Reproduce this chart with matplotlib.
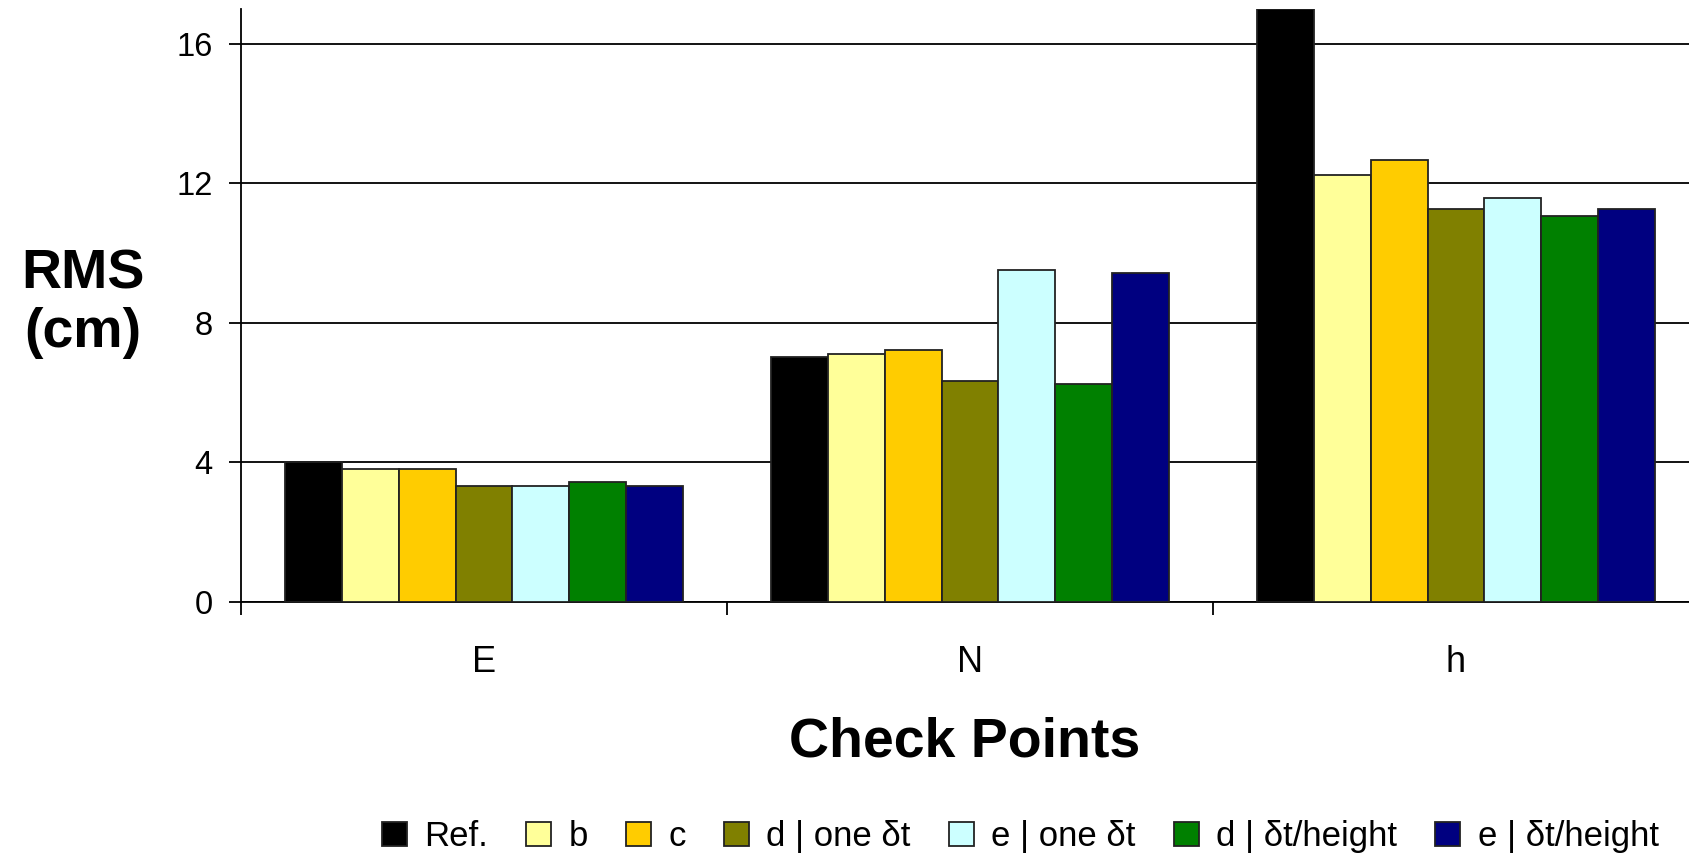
import numpy as np
import matplotlib
matplotlib.use('Agg')
import matplotlib.pyplot as plt
from matplotlib.ticker import FixedLocator

plt.rcParams['font.family'] = ['Liberation Sans', 'DejaVu Sans']

categories = ['E', 'N', 'h']
series_names = ['Ref.', 'b', 'c', 'd | one δt', 'e | one δt', 'd | δt/height', 'e | δt/height']
ref_vals = [4.0, 7.02, 17.0]
b_vals = [3.8, 7.12, 12.24]
c_vals = [3.8, 7.23, 12.66]
d_one_vals = [3.33, 6.33, 11.26]
e_one_vals = [3.32, 9.52, 11.57]
d_height_vals = [3.45, 6.24, 11.07]
e_height_vals = [3.32, 9.42, 11.28]
colors = ['#000000', '#FFFF99', '#FFCC00', '#808000', '#CCFFFF', '#008000', '#000080']

all_vals = [ref_vals, b_vals, c_vals, d_one_vals, e_one_vals, d_height_vals, e_height_vals]

fig = plt.figure(figsize=(16.89, 8.63), dpi=100)
ax = fig.add_axes([0.1427, 0.3024, 0.8632, 0.6872])

x = np.arange(len(categories))
w = 0.117
n = len(all_vals)
for i, (vals, name, col) in enumerate(zip(all_vals, series_names, colors)):
    ax.bar(x + (i - (n - 1) / 2) * w, vals, width=w, color=col, edgecolor='#222222',
           linewidth=1.3, label=name, zorder=3)

ax.set_xlim(-0.5, 2.5)
ax.set_ylim(0, 17)
ax.set_yticks([0, 4, 8, 12, 16])
ax.yaxis.grid(True, color='black', linewidth=1.3, zorder=0)
ax.set_axisbelow(True)

ax.set_xticks(x)
ax.set_xticklabels(categories)
ax.xaxis.set_minor_locator(FixedLocator([-0.5, 0.5, 1.5, 2.5]))
ax.tick_params(axis='x', which='major', length=0, pad=31, labelsize=26)
ax.tick_params(axis='x', which='minor', length=9, width=1.3, direction='out')
ax.tick_params(axis='y', length=8.5, width=1.3, direction='out', pad=12, labelsize=23.5)

for s in ['top', 'right']:
    ax.spines[s].set_visible(False)
ax.spines['left'].set_linewidth(1.3)
ax.spines['bottom'].set_linewidth(1.3)

fig.text(0.049, 0.648, 'RMS\n(cm)', fontsize=40, fontweight='bold', ha='center', va='center',
         linespacing=1.15)
fig.text(0.571, 0.14, 'Check Points', fontsize=40, fontweight='bold', ha='center', va='center')

handles, labels = ax.get_legend_handles_labels()
fig.legend(handles, labels, loc='center', bbox_to_anchor=(0.604, 0.031), ncol=7,
           frameon=False, fontsize=25, handlelength=0.72, handleheight=0.68,
           handletextpad=0.5, columnspacing=1.1, borderpad=0)

fig.savefig('out.png', dpi=100)
